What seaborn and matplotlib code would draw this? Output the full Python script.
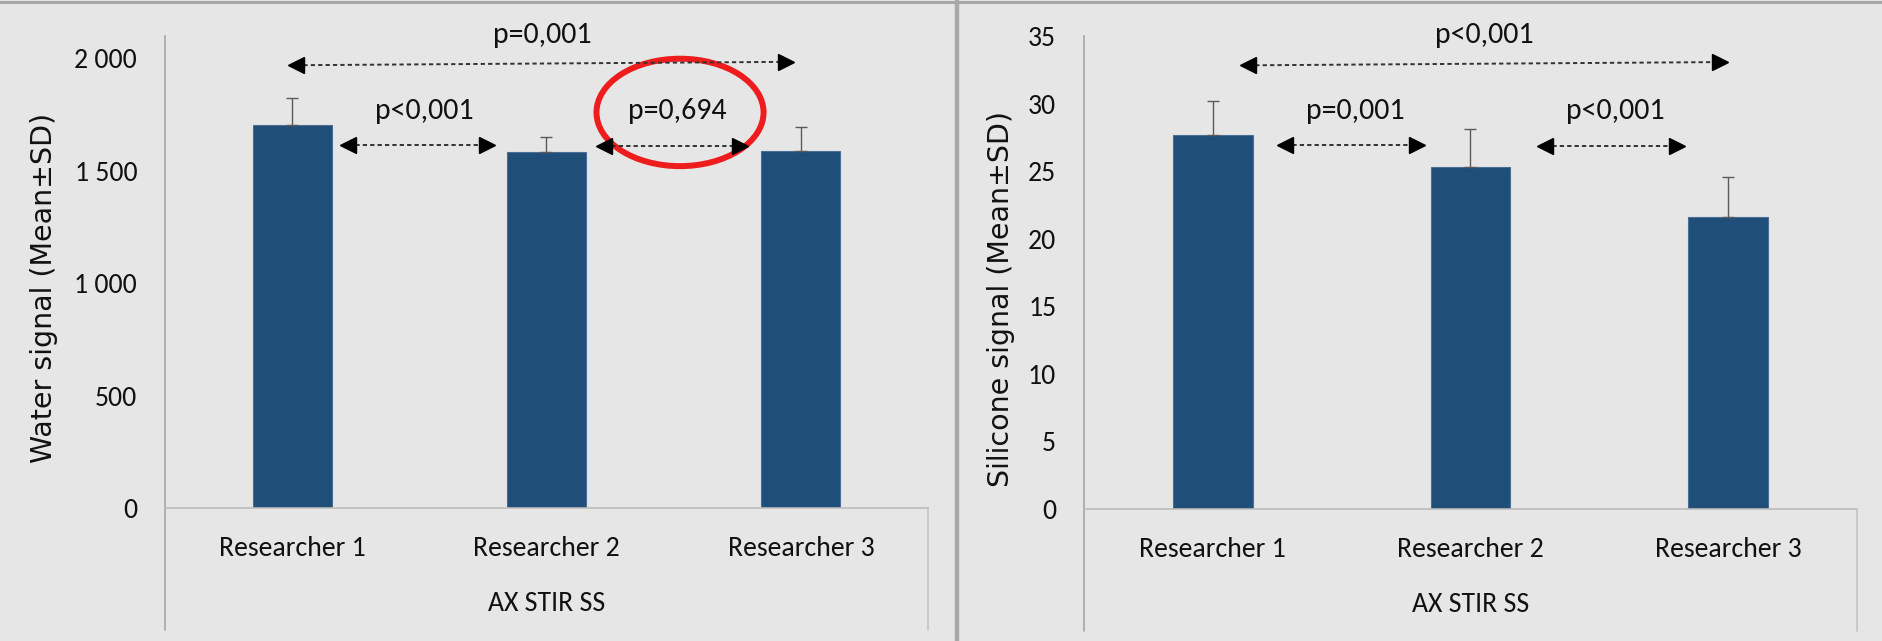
import numpy as np
import pandas as pd
import matplotlib
matplotlib.use("Agg")
import matplotlib.pyplot as plt
from matplotlib.patches import Ellipse
from matplotlib.ticker import FuncFormatter
import seaborn as sns

# data
researchers = ["Researcher 1", "Researcher 2", "Researcher 3"]
water_mean = [1702, 1582, 1589]
water_sd = [120, 67, 106]
silicone_mean = [27.7, 25.3, 21.6]
silicone_sd = [2.5, 2.8, 3.0]
water_p = ["p=0,001", "p<0,001", "p=0,694"]
silicone_p = ["p<0,001", "p=0,001", "p<0,001"]
group_label = "AX STIR SS"

sns.set_style("white")
plt.rcParams["font.family"] = ["Carlito", "Liberation Sans", "DejaVu Sans"]

BG = "#e6e6e6"
BAR = "#1f4e79"
W, H = 1883, 641

fig = plt.figure(figsize=(W / 100, H / 100), dpi=100, facecolor=BG)


def px_axes(x0, x1, y_top, y_base):
    return fig.add_axes([x0 / W, 1 - y_base / H, (x1 - x0) / W, (y_base - y_top) / H])


def draw_panel(ax, means, sds, ymax, step, fmt, ylabel, label_xy, pvals, arrows, texts):
    df = pd.DataFrame({"researcher": researchers, "value": means})
    sns.barplot(data=df, x="researcher", y="value", color=BAR, saturation=1,
                width=0.31, errorbar=None, edgecolor="#4a6f94", linewidth=0.8, ax=ax)
    ax.errorbar(range(len(means)), means, yerr=[np.zeros(len(sds)), sds], fmt="none",
                ecolor="#5a5a5a", elinewidth=1, capsize=4.3, capthick=1)
    ax.set_facecolor(BG)
    ax.set_xlim(-0.5, 2.5)
    ax.set_ylim(0, ymax)
    ax.set_yticks(np.arange(0, ymax + 0.01 - (ymax % step), step))
    ax.yaxis.set_major_formatter(FuncFormatter(fmt))
    ax.tick_params(axis="both", length=0, labelsize=20, colors="#111111")
    ax.tick_params(axis="y", pad=20)
    ax.tick_params(axis="x", pad=20)
    for s in ["top", "right"]:
        ax.spines[s].set_visible(False)
    ax.spines["left"].set_color("#a6a6a6")
    ax.spines["bottom"].set_color("#bdbdbd")
    ax.spines["left"].set_linewidth(1.2)
    ax.spines["bottom"].set_linewidth(1.2)
    # category box below the axis (Excel style)
    for xa, c in [(0, "#a6a6a6"), (1, "#c4c4c4")]:
        ax.plot([xa, xa], [0, -0.258], transform=ax.transAxes, color=c, lw=1.2, clip_on=False)
    ax.set_xlabel(group_label, fontsize=20, labelpad=22, color="#111111")
    ax.set_ylabel(ylabel, family="DejaVu Sans", fontsize=20.5, color="#111111")
    ax.yaxis.label.set_verticalalignment("center")
    ax.yaxis.set_label_coords(*label_xy)

    # significance arrows
    for (xl, xr, yl, yr) in arrows:
        ax.plot([xl, xr], [yl, yr], ls=(0, (2.2, 1.6)), color="#333333", lw=1.4, clip_on=False)
        ax.plot([xl], [yl], marker="<", ms=12, color="black", clip_on=False)
        ax.plot([xr], [yr], marker=">", ms=12, color="black", clip_on=False)
    for lab, (tx, ty) in zip(pvals, texts):
        ax.text(tx, ty, lab, ha="center", va="center", fontsize=21.5, color="#111111", clip_on=False)


ax1 = px_axes(165, 928, 36, 508)
draw_panel(ax1, water_mean, water_sd, 2100, 500,
           lambda v, p: f"{int(v):,}".replace(",", " "),
           "Water signal (Mean±SD)", (-0.158, 0.466), water_p,
           [(0.015, 1.943, 1970, 1985), (0.22, 0.765, 1615, 1615), (1.227, 1.76, 1611, 1611)],
           [(0.982, 2105), (0.518, 1766), (1.513, 1766)])
ax1.add_patch(Ellipse((1.525, 1760), 0.657, 478, fill=False, edgecolor="#ee1c1c", lw=4.3, clip_on=False))

ax2 = px_axes(1084, 1857, 36, 509)
draw_panel(ax2, silicone_mean, silicone_sd, 35, 5,
           lambda v, p: f"{int(v)}",
           "Silicone signal (Mean±SD)", (-0.107, 0.444), silicone_p,
           [(0.136, 1.968, 32.83, 33.07), (0.28, 0.792, 26.94, 26.94), (1.289, 1.801, 26.87, 26.87)],
           [(1.052, 35.09), (0.552, 29.46), (1.561, 29.46)])

# panel frames
fig.add_artist(plt.Line2D([0, 1], [1 - 1.5 / H, 1 - 1.5 / H], color="#a8a8a8", lw=2.2))
fig.add_artist(plt.Line2D([957 / W, 957 / W], [0, 1], color="#a8a8a8", lw=3.2))

fig.savefig("out.png", dpi=100, facecolor=BG)
